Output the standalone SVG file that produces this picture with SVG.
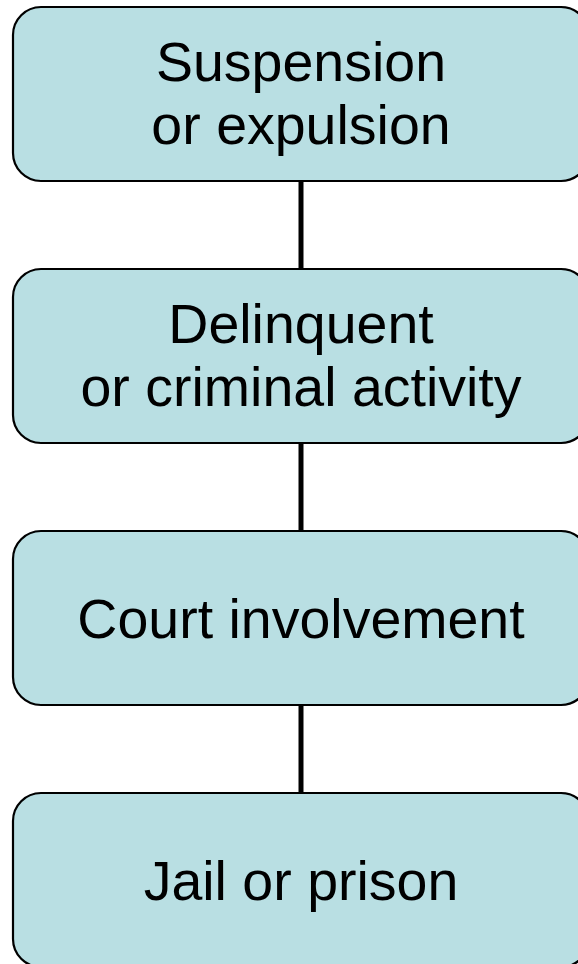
<svg xmlns="http://www.w3.org/2000/svg" width="578" height="964" viewBox="0 0 578 964">
<style>
.box{fill:#b9dfe3;stroke:#000;stroke-width:2.2}
.t{font-family:"Liberation Sans",Arial,sans-serif;font-size:55.5px;fill:#000;text-anchor:middle}
.c{stroke:#000;stroke-width:5}
</style>
<rect width="578" height="964" fill="#fff"/>
<g id="connectors">
<line class="c" x1="301" y1="181" x2="301" y2="269"/>
<line class="c" x1="301" y1="443" x2="301" y2="531"/>
<line class="c" x1="301" y1="705" x2="301" y2="793"/>
</g>
<g id="n1">
<rect class="box" x="13" y="7" width="576" height="174" rx="28"/>
<text class="t" x="301" y="81">Suspension</text>
<text class="t" x="301" y="144">or expulsion</text>
</g>
<g id="n2">
<rect class="box" x="13" y="269" width="576" height="174" rx="28"/>
<text class="t" x="301" y="343">Delinquent</text>
<text class="t" x="301" y="406">or criminal activity</text>
</g>
<g id="n3">
<rect class="box" x="13" y="531" width="576" height="174" rx="28"/>
<text class="t" x="301" y="638">Court involvement</text>
</g>
<g id="n4">
<rect class="box" x="13" y="793" width="576" height="174" rx="28"/>
<text class="t" x="301" y="900">Jail or prison</text>
</g>
</svg>
